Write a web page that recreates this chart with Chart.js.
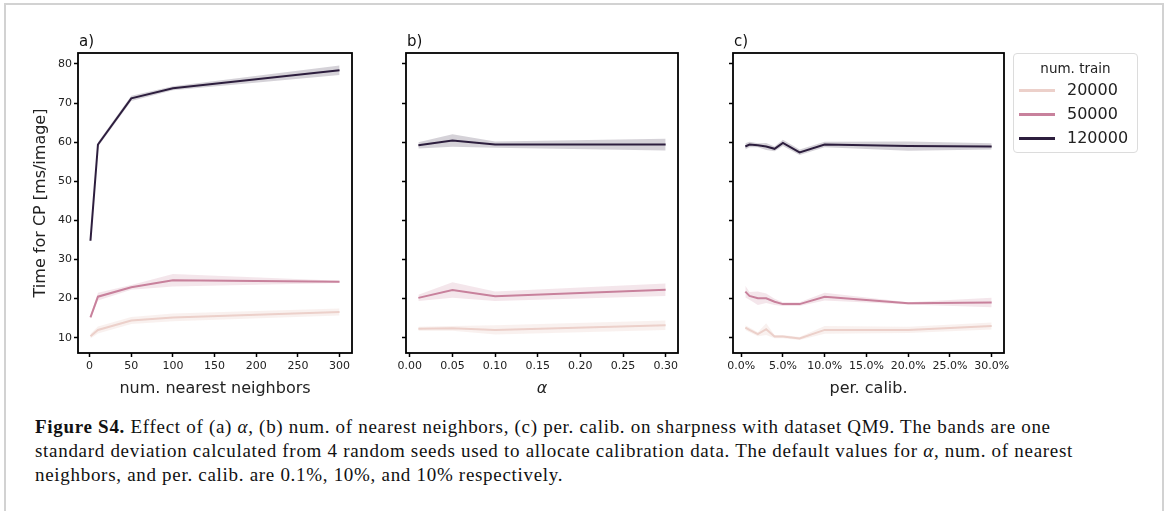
<!DOCTYPE html>
<html>
<head>
<meta charset="utf-8">
<script src="https://cdn.jsdelivr.net/npm/chart.js@4.4.1/dist/chart.umd.min.js"></script>
<style>
  body { margin: 0; background: #fff; width: 1166px; height: 511px; overflow: hidden; position: relative; font-family: "DejaVu Sans", sans-serif; }
  #frame { position: absolute; left: 4px; top: 3px; width: 1156px; height: 530px; border: 2px solid #d2d2d2; border-bottom: none; }
  canvas { position: absolute; }
  #legend { position: absolute; left: 1013px; top: 53px; width: 123px; height: 98px; border: 1px solid #dcdcdc; border-radius: 4px; background: #fff; }
  #legend .ttl { position: absolute; left: 0; width: 100%; top: 6px; text-align: center; font-size: 13.5px; color: #222; }
  #legend .row { position: absolute; left: 0; width: 100%; height: 20px; }
  #legend .swatch { position: absolute; left: 5px; top: 9px; width: 36px; height: 3px; }
  #legend .lbl { position: absolute; left: 53px; top: 0; font-size: 16px; line-height: 20px; color: #222; }
  #caption { position: absolute; left: 35px; top: 415px; font-family: "Liberation Serif", serif; font-size: 19px; letter-spacing: 0.7px; line-height: 24px; color: #111; white-space: nowrap; }
</style>
</head>
<body>
<div id="frame"></div>
<canvas id="chartA" width="346" height="390" style="left:20px;top:20px"></canvas>
<canvas id="chartB" width="322" height="390" style="left:370px;top:20px"></canvas>
<canvas id="chartC" width="330" height="390" style="left:700px;top:20px"></canvas>
<div id="legend"><div class="ttl">num. train</div></div>
<div id="caption">
  <div><b>Figure S4.</b> Effect of (a) <i>α</i>, (b) num. of nearest neighbors, (c) per. calib. on sharpness with dataset QM9. The bands are one</div>
  <div>standard deviation calculated from 4 random seeds used to allocate calibration data. The default values for <i>α</i>, num. of nearest</div>
  <div>neighbors, and per. calib. are 0.1%, 10%, and 10% respectively.</div>
</div>
<script>
// training set sizes and their colours
var trainSizes = ['20000', '50000', '120000'];
var trainColors = ['#ecd0ca', '#c8819c', '#2d1e3e'];
var bandColors = ['rgba(236,208,202,0.3)', 'rgba(200,129,156,0.2)', 'rgba(45,30,62,0.2)'];

// shared y axis
var yTicks = [10, 20, 30, 40, 50, 60, 70, 80];
var yMin = 6.1, yMax = 82.8;

// a) num. nearest neighbors
var aX = [1, 10, 50, 100, 300];
var aTicks = [0, 50, 100, 150, 200, 250, 300];
var a20k = [10.4, 12.0, 14.4, 15.2, 16.6];
var a20kSd = [0.6, 0.9, 0.9, 1.0, 0.9];
var a50k = [15.2, 20.5, 22.9, 24.7, 24.3];
var a50kSd = [0.4, 1.0, 0.6, 1.6, 0.3];
var a120k = [34.8, 59.4, 71.2, 73.8, 78.4];
var a120kSd = [0.4, 0.6, 0.7, 0.5, 1.2];

// b) alpha
var bX = [0.01, 0.05, 0.10, 0.30];
var bTicks = [0, 0.05, 0.10, 0.15, 0.20, 0.25, 0.30];
var b20k = [12.3, 12.4, 12.0, 13.2];
var b20kSd = [0.5, 0.6, 1.2, 1.2];
var b50k = [20.2, 22.2, 20.6, 22.3];
var b50kSd = [0.8, 2.0, 1.2, 1.6];
var b120k = [59.2, 60.4, 59.4, 59.4];
var b120kSd = [0.8, 1.6, 0.8, 1.5];

// c) per. calib. (percent)
var cX = [0.5, 1, 2, 3, 4, 5, 7, 10, 20, 30];
var cTicks = [0, 5, 10, 15, 20, 25, 30];
var c20k = [12.6, 12.0, 10.9, 12.2, 10.3, 10.3, 9.8, 12.0, 12.0, 13.0];
var c20kSd = [0.6, 0.6, 0.5, 1.5, 0.4, 0.4, 0.4, 1.0, 0.8, 0.9];
var c50k = [21.8, 20.7, 20.1, 20.1, 19.2, 18.6, 18.6, 20.5, 18.8, 19.0];
var c50kSd = [1.5, 1.0, 1.7, 1.2, 0.8, 0.5, 0.5, 1.0, 0.3, 1.2];
var c120k = [58.9, 59.4, 59.2, 58.9, 58.3, 59.8, 57.4, 59.4, 59.0, 58.9];
var c120kSd = [0.8, 0.7, 0.5, 0.9, 0.6, 0.8, 0.7, 0.7, 1.2, 0.8];

// box around the plot area and the panel letter
var panelFrame = {
  id: 'panelFrame',
  afterDatasetsDraw: function(chart, args, opts) {
    var a = chart.chartArea, ctx = chart.ctx;
    ctx.save();
    ctx.strokeStyle = '#000';
    ctx.lineWidth = 1.8;
    ctx.strokeRect(a.left, a.top, a.right - a.left, a.bottom - a.top);
    ctx.fillStyle = '#111';
    ctx.font = '15px "DejaVu Sans"';
    ctx.textBaseline = 'alphabetic';
    ctx.fillText(opts.letter, a.left + 1, a.top - 7);
    ctx.restore();
  }
};

function pts(xs, ys, sds, sign) {
  return xs.map(function(x, i) { return {x: x, y: ys[i] + sign * (sds ? sds[i] : 0)}; });
}

// mean line plus a +-1 sd band for each training size
function series(xs, means, sds) {
  var sets = [];
  for (var k = 0; k < means.length; k++) {
    sets.push({data: pts(xs, means[k], sds[k], 1), borderWidth: 0, pointRadius: 0, fill: '+1', backgroundColor: bandColors[k], order: 1});
    sets.push({data: pts(xs, means[k], sds[k], -1), borderWidth: 0, pointRadius: 0, fill: false, order: 1});
    sets.push({data: pts(xs, means[k], null, 0), borderColor: trainColors[k], borderWidth: 2, pointRadius: 0, fill: false, order: 0});
  }
  return sets;
}

function panel(id, letter, sets, xTicks, xLabel, xFmt, xMin, xMax, yLeft, showY, padRight, italic) {
  return new Chart(document.getElementById(id), {
    type: 'line',
    data: {datasets: sets},
    plugins: [panelFrame],
    options: {
      responsive: false,
      animation: false,
      layout: {padding: {top: 33, right: padRight, left: 0, bottom: 0}},
      plugins: {legend: {display: false}, tooltip: {enabled: false}, panelFrame: {letter: letter}},
      scales: {
        x: {
          type: 'linear', min: xMin, max: xMax,
          afterBuildTicks: function(s) { s.ticks = xTicks.map(function(v) { return {value: v}; }); },
          afterFit: function(s) { s.height = 57; },
          grid: {drawOnChartArea: false, drawTicks: true, tickLength: 4, tickColor: '#000', tickWidth: 1.5},
          border: {display: false},
          ticks: {autoSkip: false, maxRotation: 0, padding: 3, color: '#222', font: {family: 'DejaVu Sans', size: 11}, callback: xFmt},
          title: {display: true, text: xLabel, color: '#222', padding: {top: 0, bottom: 12}, font: {family: 'DejaVu Sans', size: 16, style: italic ? 'italic' : 'normal'}}
        },
        y: {
          type: 'linear', min: yMin, max: yMax,
          afterBuildTicks: function(s) { s.ticks = yTicks.map(function(v) { return {value: v}; }); },
          afterFit: function(s) { s.width = yLeft; },
          grid: {drawOnChartArea: false, drawTicks: true, tickLength: 4, tickColor: '#000', tickWidth: 1.5},
          border: {display: false},
          ticks: {padding: 2, color: '#222', font: {family: 'DejaVu Sans', size: 11},
            callback: function(v) { return showY ? String(v) : ''; }},
          title: {display: showY, text: 'Time for CP [ms/image]', color: '#222', padding: {top: 11, bottom: 0}, font: {family: 'DejaVu Sans', size: 16}}
        }
      }
    }
  });
}

panel('chartA', 'a)', series(aX, [a20k, a50k, a120k], [a20kSd, a50kSd, a120kSd]), aTicks,
  'num. nearest neighbors', function(v) { return String(v); }, -13.95, 314.95, 58, true, 14, false);
panel('chartB', 'b)', series(bX, [b20k, b50k, b120k], [b20kSd, b50kSd, b120kSd]), bTicks,
  'α', function(v) { return v.toFixed(2); }, -0.0045, 0.3145, 36, false, 14, true);
panel('chartC', 'c)', series(cX, [c20k, c50k, c120k], [c20kSd, c50kSd, c120kSd]), cTicks,
  'per. calib.', function(v) { return v.toFixed(1) + '%'; }, -0.975, 31.475, 33, false, 26, false);

// legend entries
var legend = document.getElementById('legend');
trainSizes.forEach(function(name, i) {
  var row = document.createElement('div');
  row.className = 'row';
  row.style.top = (26 + i * 24) + 'px';
  row.innerHTML = '<div class="swatch" style="background:' + trainColors[i] + '"></div><div class="lbl">' + name + '</div>';
  legend.appendChild(row);
});
</script>
</body>
</html>
